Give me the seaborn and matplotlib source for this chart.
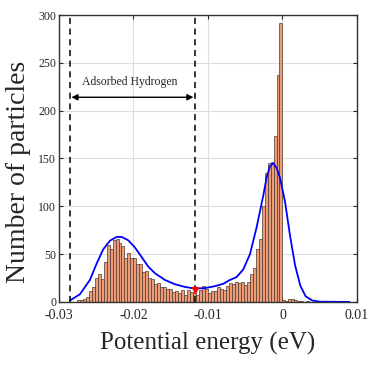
import numpy as np
import pandas as pd
import matplotlib
matplotlib.use('Agg')
import matplotlib.pyplot as plt
import seaborn as sns

# ---- histogram (bin width 0.0004 eV) ----
bin_width = 0.0004
bin_edges = np.round(np.arange(-69, 21 + 1) * bin_width, 6)
counts = [2, 2, 3, 5, 11, 16, 25, 29, 24, 42,
          60, 55, 65, 66, 62, 59, 46, 51, 46, 46,
          40, 40, 31, 32, 25, 24, 19, 20, 16, 16,
          14, 14, 10, 11, 9, 12, 7, 12, 10, 9,
          7, 12, 17, 14, 9, 11, 11, 16, 14, 12,
          17, 20, 19, 21, 20, 21, 18, 21, 29,
          36, 55, 66, 100, 135, 145, 146, 174, 237, 292,
          2, 1, 3, 3, 2, 1, 1, 0, 1, 0,
          0, 0, 0, 0, 0, 0, 0, 0, 0, 0, 1]

# ---- fitted density curve (blue) ----
fit_x = [-0.02852, -0.02718, -0.02584, -0.02494, -0.02405, -0.02315, -0.02226,
         -0.02158, -0.02070, -0.01980, -0.01890, -0.01801, -0.01711, -0.01577,
         -0.01443, -0.01309, -0.01174, -0.01040, -0.00906, -0.00794, -0.00705,
         -0.00615, -0.00526, -0.00436, -0.00347, -0.00258, -0.00213, -0.00168,
         -0.00123, -0.00078, -0.00034, 0.00034, 0.00100, 0.00170, 0.00240,
         0.00310, 0.00400, 0.00500, 0.00900]
fit_y = [1.5, 8, 23, 40, 55, 64, 68,
         68, 64.5, 57, 47, 37, 30, 23,
         18.5, 15.7, 14, 14.5, 16.5, 19, 23,
         26, 34, 50, 78, 111, 130, 142,
         145, 140, 130, 105, 70, 38, 17,
         6, 1.5, 0.3, 0]

cutoff_lines = [-0.02852, -0.01174]
min_point = (-0.01174, 13)
x_ticks = [-0.03, -0.02, -0.01, 0, 0.01]
x_tick_labels = ['-0.03', '-0.02', '-0.01', '0', '0.01']
y_ticks = [0, 50, 100, 150, 200, 250, 300]

bin_centers = bin_edges[:-1] + bin_width / 2
energy = np.repeat(bin_centers, counts)
fit = pd.DataFrame({'x': fit_x, 'y': fit_y})

# ---- style ----
sns.set_style('whitegrid')
plt.rcParams['font.family'] = ['Liberation Serif', 'DejaVu Serif']
plt.rcParams['axes.unicode_minus'] = False

fig = plt.figure(figsize=(3.75, 3.66), dpi=100)
ax = fig.add_axes([0.157, 0.175, 0.795, 0.784])

sns.histplot(x=energy, bins=bin_edges, ax=ax,
             color='#EC9770', alpha=0.95, edgecolor='#4a3a32', linewidth=0.5)
sns.lineplot(data=fit, x='x', y='y', ax=ax, color='#0000FF', linewidth=1.3)

for xv in cutoff_lines:
    ax.axvline(xv, color='black', linestyle='--', linewidth=1.1, dashes=(4, 3))

ax.annotate('', xy=(cutoff_lines[0] + 0.0002, 214), xytext=(cutoff_lines[1] - 0.0002, 214),
            arrowprops=dict(arrowstyle='<|-|>', color='black', lw=1.0,
                            mutation_scale=9, shrinkA=0, shrinkB=0))
ax.text(-0.0205, 224, 'Adsorbed Hydrogen', ha='center', va='bottom', fontsize=8.5)

ax.plot(min_point[0], min_point[1], marker='v', color='red', markersize=5, linestyle='none')

ax.set_xlim(-0.03, 0.01)
ax.set_ylim(0, 300)
ax.set_xticks(x_ticks)
ax.set_xticklabels(x_tick_labels)
ax.set_yticks(y_ticks)
ax.tick_params(direction='in', length=3, width=0.8,
               top=True, right=True, bottom=True, left=True)
ax.tick_params(axis='x', labelsize=10, pad=5)
ax.tick_params(axis='y', labelsize=8.5, pad=2)
ax.grid(True, color='#dddddd', linewidth=0.8)
for sp in ax.spines.values():
    sp.set_color('#333333')
    sp.set_linewidth(1.0)

ax.set_xlabel('Potential energy (eV)', fontsize=18, labelpad=7)
ax.set_ylabel('Number of particles', fontsize=20)
ax.yaxis.set_label_coords(-0.095, 0.455)

fig.savefig('out.png', dpi=100)
